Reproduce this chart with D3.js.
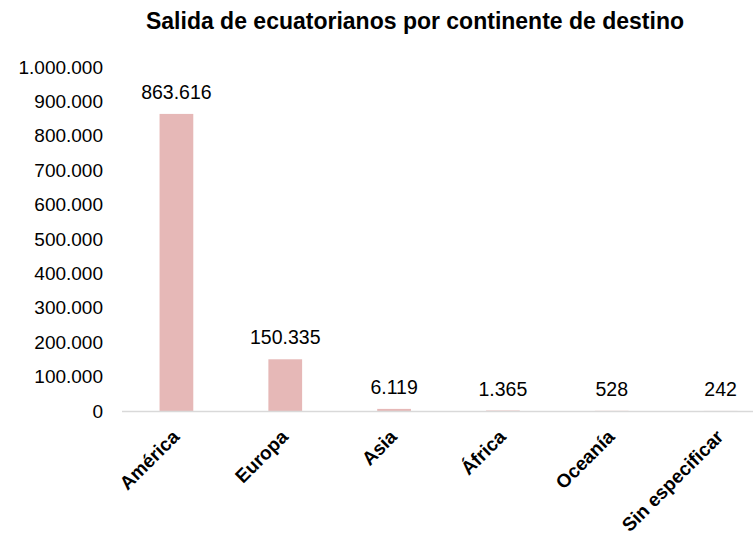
<!DOCTYPE html>
<html><head><meta charset="utf-8">
<script src="https://cdn.jsdelivr.net/npm/d3@7"></script>
<style>body{margin:0;background:#fff}svg{display:block}</style>
</head><body>
<svg id="c" width="753" height="538"></svg>
<script>
const categories = ["América","Europa","Asia","África","Oceanía","Sin especificar"];
const values = [863616,150335,6119,1365,528,242];
const yTicks = [0,100000,200000,300000,400000,500000,600000,700000,800000,900000,1000000];

const fmt = v => d3.format(",")(v).replace(/,/g,".");
const svg = d3.select("#c");
const font = "'Liberation Sans', Arial, sans-serif";

const x = d3.scaleBand().domain(categories).range([122,775]).paddingInner(0.69).paddingOuter(0.345);
const y = d3.scaleLinear().domain([0,1000000]).range([411,67]);

svg.append("text").attr("x",415).attr("y",29).attr("text-anchor","middle")
  .attr("font-family",font).attr("font-weight","bold").attr("font-size",23).attr("fill","#000")
  .text("Salida de ecuatorianos por continente de destino");

const ya = svg.append("g").attr("transform","translate(122,0)")
  .call(d3.axisLeft(y).tickValues(yTicks).tickFormat(fmt).tickSize(0).tickPadding(19));
ya.select(".domain").remove();
ya.selectAll("text").attr("font-family",font).attr("font-size",19).attr("fill","#000");

svg.selectAll("rect.bar").data(values).join("rect").attr("class","bar")
  .attr("x",(d,i)=>x(categories[i])).attr("width",x.bandwidth())
  .attr("y",d=>y(d)).attr("height",d=>y(0)-y(d)).attr("fill","#e6b8b7");

svg.append("line").attr("x1",122).attr("x2",753).attr("y1",y(0)+0.5).attr("y2",y(0)+0.5)
  .attr("stroke","#d9d9d9").attr("stroke-width",1.5);

svg.selectAll("text.val").data(values).join("text").attr("class","val")
  .attr("x",(d,i)=>x(categories[i])+x.bandwidth()/2).attr("y",d=>y(d)-15)
  .attr("text-anchor","middle").attr("font-family",font).attr("font-size",19.5).attr("fill","#000")
  .text(d=>fmt(d));

const xa = svg.append("g").attr("transform",`translate(0,${y(0)})`)
  .call(d3.axisBottom(x).tickSize(0).tickPadding(0));
xa.select(".domain").remove();
xa.selectAll("text").attr("font-family",font).attr("font-size",19).attr("font-weight","bold").attr("fill","#000")
  .attr("text-anchor","end").attr("dy",0)
  .attr("transform","translate(4,27) rotate(-45)");
</script>
</body></html>
